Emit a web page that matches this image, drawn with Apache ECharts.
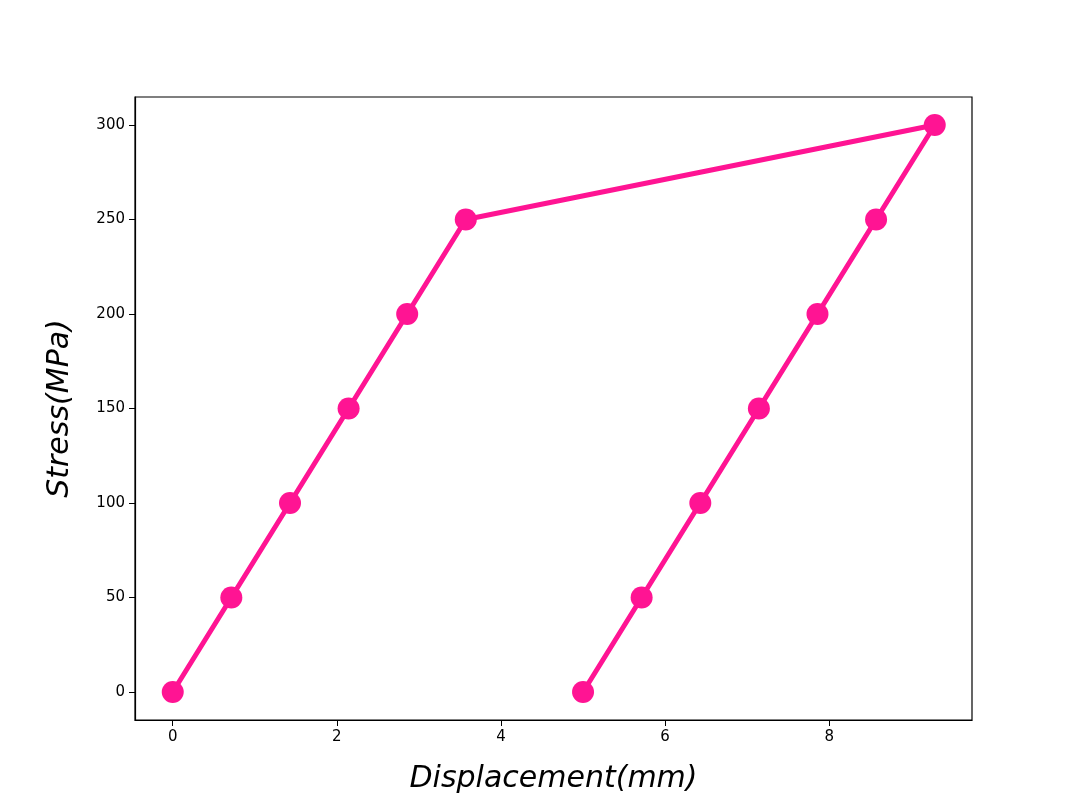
<!DOCTYPE html>
<html lang="en">
<head>
  <meta charset="UTF-8">
  <title>Stress vs Displacement</title>
  <style>
    html, body { width: 100%; height: 100%; margin: 0; background: #fff; }
  </style>
</head>
<body>
  <div id="chart" style="width:1080px;height:810px"></div>
  <script src="https://cdn.jsdelivr.net/npm/echarts@6/dist/echarts.min.js"></script>
  <script>
    var displacement = [0, 0.714, 1.429, 2.143, 2.857, 3.571, 9.286, 8.571, 7.857, 7.143, 6.429, 5.714, 5.0];
    var stress = [0, 50, 100, 150, 200, 250, 300, 250, 200, 150, 100, 50, 0];
    var xTicks = [0, 2, 4, 6, 8];
    var yTicks = [0, 50, 100, 150, 200, 250, 300];

    var points = displacement.map(function (x, i) { return [x, stress[i]]; });
    var myChart = echarts.init(document.getElementById('chart'));
    var option = {
      animation: false,
      grid: {
        left: 135, right: 108, top: 97, bottom: 90,
        show: true, borderColor: '#000', borderWidth: 1.2
      },
      xAxis: {
        type: 'value', min: -0.46, max: 9.74,
        name: 'Displacement(mm)', nameLocation: 'middle', nameGap: 44,
        nameTextStyle: { fontSize: 30, fontStyle: 'italic', color: '#000', fontFamily: 'DejaVu Sans' },
        axisLine: { show: true, onZero: false, lineStyle: { color: '#000', width: 1.2 } },
        axisTick: { show: true, length: 6, customValues: xTicks, lineStyle: { color: '#000' } },
        axisLabel: { customValues: xTicks, fontSize: 15, color: '#000', margin: 10, fontFamily: 'DejaVu Sans' },
        splitLine: { show: false }
      },
      yAxis: {
        type: 'value', min: -14.8, max: 314.8,
        name: 'Stress(MPa)', nameLocation: 'middle', nameGap: 60,
        nameTextStyle: { fontSize: 30, fontStyle: 'italic', color: '#000', fontFamily: 'DejaVu Sans' },
        axisLine: { show: true, onZero: false, lineStyle: { color: '#000', width: 1.2 } },
        axisTick: { show: true, length: 6, customValues: yTicks, lineStyle: { color: '#000' } },
        axisLabel: { customValues: yTicks, fontSize: 15, color: '#000', margin: 10, fontFamily: 'DejaVu Sans' },
        splitLine: { show: false }
      },
      series: [{
        type: 'line',
        data: points,
        symbol: 'circle',
        symbolSize: 22,
        itemStyle: { color: '#FF1493' },
        lineStyle: { color: '#FF1493', width: 5 }
      }]
    };
    myChart.setOption(option);
  </script>
</body>
</html>
